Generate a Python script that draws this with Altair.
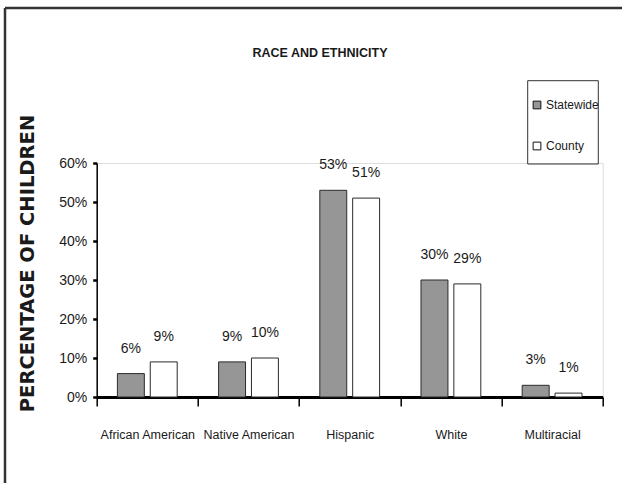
import altair as alt
import pandas as pd

# Share of children by race / ethnicity, statewide vs. county
categories = ["African American", "Native American", "Hispanic", "White", "Multiracial"]
series = ["Statewide", "County"]
statewide = [0.06, 0.09, 0.53, 0.30, 0.03]
county = [0.09, 0.10, 0.51, 0.29, 0.01]
y_ticks = [0.0, 0.1, 0.2, 0.3, 0.4, 0.5, 0.6]

rows = []
for i, cat in enumerate(categories):
    rows.append({"group": cat, "area": "Statewide", "share": statewide[i]})
    rows.append({"group": cat, "area": "County", "share": county[i]})
df = pd.DataFrame(rows)

SANS = "Liberation Sans, Arial, sans-serif"
TEXT = "#1a1a1a"
W, H = 506, 234
LEFT, TOP = 96.7, 163.0

x_enc = alt.X(
    "group:N",
    sort=categories,
    title=None,
    scale=alt.Scale(paddingInner=0, paddingOuter=0),
    axis=alt.Axis(
        labelAngle=0,
        tickBand="extent",
        domainColor="black",
        domainWidth=3,
        tickColor="black",
        tickWidth=1.5,
        tickSize=9,
        labelPadding=22,
        labelFont=SANS,
        labelFontSize=12.5,
        labelColor=TEXT,
    ),
)
xo_enc = alt.XOffset(
    "area:N", sort=series, scale=alt.Scale(paddingInner=0.18, paddingOuter=0.63)
)
y_enc = alt.Y(
    "share:Q",
    scale=alt.Scale(domain=[0, 0.6], nice=False, zero=True),
    axis=alt.Axis(
        values=y_ticks,
        format=".0%",
        grid=False,
        domainColor="black",
        domainWidth=1.5,
        tickColor="black",
        tickWidth=2.5,
        tickSize=4,
        labelPadding=6,
        labelFont=SANS,
        labelFontSize=14,
        labelColor=TEXT,
        title="PERCENTAGE OF CHILDREN",
        titleFont="DejaVu Sans",
        titleFontWeight="bold",
        titleFontSize=19.5,
        titleColor=TEXT,
        titleAngle=270,
        titleAlign="center",
        titleBaseline="middle",
        titleX=27 - LEFT,
        titleY=263 - TOP,
    ),
)

base = alt.Chart(df).encode(x=x_enc, xOffset=xo_enc, y=y_enc)

bars = base.mark_bar(stroke="#2b2b2b", strokeWidth=1).encode(
    color=alt.Color(
        "area:N",
        sort=series,
        scale=alt.Scale(domain=series, range=["#969696", "#ffffff"]),
        legend=alt.Legend(
            title=None,
            orient="none",
            legendX=531 - LEFT,
            legendY=99 - TOP,
            symbolType="square",
            symbolSize=60,
            symbolStrokeColor="#111",
            symbolStrokeWidth=1,
            labelFont=SANS,
            labelFontSize=12,
            labelColor=TEXT,
            labelOffset=3,
            rowPadding=29,
            padding=0,
        ),
    )
)

values = base.mark_text(
    font=SANS, fontSize=14, color=TEXT, baseline="middle", dy=-25
).encode(text=alt.Text("share:Q", format=".0%"))

# Legend frame
frame = alt.Chart(alt.Data(values=[{}])).mark_rect(
    fill=None, stroke="#333", strokeWidth=1
).encode(
    x=alt.value(527.7 - LEFT),
    x2=alt.value(598.3 - LEFT),
    y=alt.value(80.7 - TOP),
    y2=alt.value(164 - TOP),
)

# Chart heading
heading = alt.Chart(alt.Data(values=[{"t": "RACE AND ETHNICITY"}])).mark_text(
    font=SANS, fontSize=12.5, fontWeight="bold", color=TEXT, baseline="middle", align="center"
).encode(text="t:N", x=alt.value(320 - LEFT), y=alt.value(53 - TOP))

# Page border along the top and left edges
border_top = alt.Chart(alt.Data(values=[{}])).mark_rule(color="#333", strokeWidth=2.5).encode(
    x=alt.value(5 - LEFT), x2=alt.value(640 - LEFT), y=alt.value(8 - TOP)
)
border_left = alt.Chart(alt.Data(values=[{}])).mark_rule(color="#333", strokeWidth=2.5).encode(
    x=alt.value(5 - LEFT), y=alt.value(8 - TOP), y2=alt.value(500 - TOP)
)

chart = (
    alt.layer(bars, values, frame, heading, border_top, border_left)
    .properties(
        width=W,
        height=H,
        autosize=alt.AutoSizeParams(type="none"),
        padding={"left": LEFT, "top": TOP, "right": 622 - LEFT - W, "bottom": 483 - TOP - H},
    )
    .configure_view(stroke=None)
    .configure(background="white")
)

chart.save("out.html", embed_options={"renderer": "svg", "actions": False})
